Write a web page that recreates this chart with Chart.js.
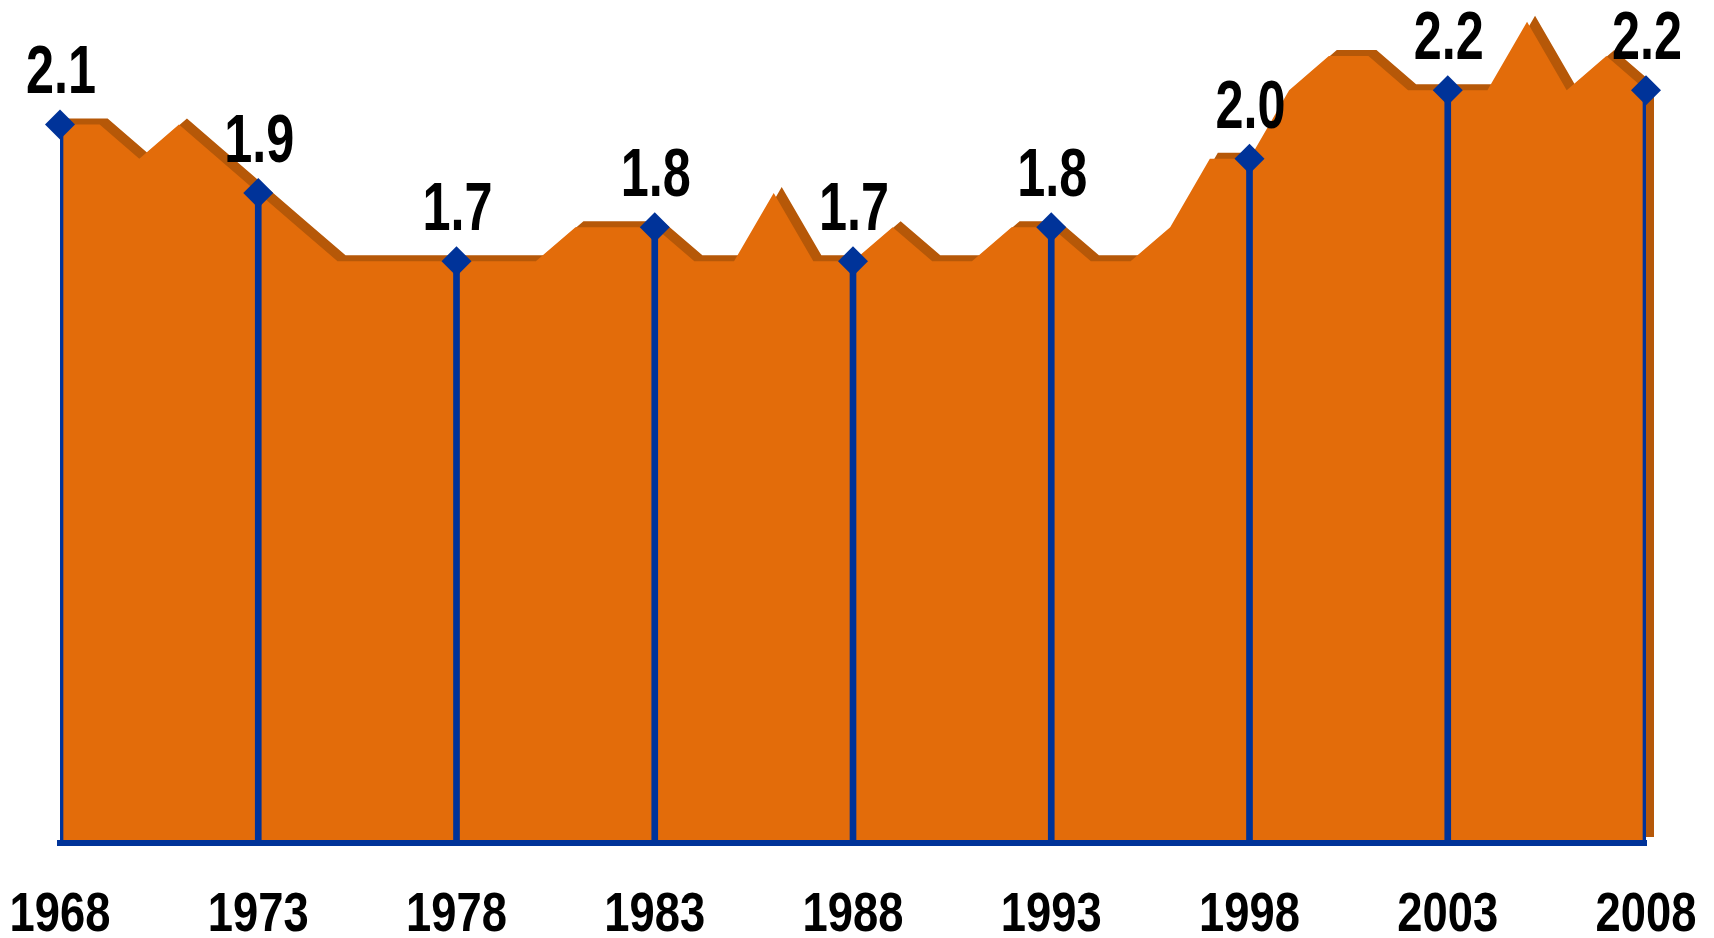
<!DOCTYPE html>
<html>
<head>
<meta charset="utf-8">
<script src="https://cdn.jsdelivr.net/npm/chart.js@4.4.1/dist/chart.umd.min.js"></script>
<style>
  html, body { margin: 0; padding: 0; background: #fff; }
</style>
</head>
<body>
<canvas id="chart" width="1714" height="938"></canvas>
<script>
// yearly series, 1968 - 2008
const years = ['1968','1969','1970','1971','1972','1973','1974','1975','1976','1977',
               '1978','1979','1980','1981','1982','1983','1984','1985','1986','1987',
               '1988','1989','1990','1991','1992','1993','1994','1995','1996','1997',
               '1998','1999','2000','2001','2002','2003','2004','2005','2006','2007','2008'];
const values = [2.1, 2.1, 2.0, 2.1, 2.0, 1.9, 1.8, 1.7, 1.7, 1.7,
                1.7, 1.7, 1.7, 1.8, 1.8, 1.8, 1.7, 1.7, 1.9, 1.7,
                1.7, 1.8, 1.7, 1.7, 1.8, 1.8, 1.7, 1.7, 1.8, 2.0,
                2.0, 2.2, 2.3, 2.3, 2.2, 2.2, 2.2, 2.4, 2.2, 2.3, 2.2];
// years that get a marker, a drop line and an axis label
const markerYears = ['1968','1973','1978','1983','1988','1993','1998','2003','2008'];

const ORANGE = '#E36C0A';
const SHADOW = '#B65808';
const BLUE = '#003399';
const FONT = "'Liberation Sans', Arial, sans-serif";

const markerData = years.map((y, i) => markerYears.includes(y) ? values[i] : null);

// narrow bold text (no condensed face installed, so squeeze it)
function narrowText(c, text, x, y, size, squeeze) {
    c.save();
    c.translate(x, y);
    c.scale(squeeze, 1);
    c.font = 'bold ' + size + 'px ' + FONT;
    c.fillStyle = '#000';
    c.textAlign = 'center';
    c.textBaseline = 'alphabetic';
    c.fillText(text, 0, 0);
    c.restore();
}

// darker copy of the area, shifted up/right, drawn behind it
const areaShadow = {
    id: 'areaShadow',
    beforeDatasetsDraw(chart) {
        const pts = chart.getDatasetMeta(0).data;
        const base = chart.scales.y.getPixelForValue(0);
        const c = chart.ctx;
        c.save();
        c.translate(8, -6);
        c.beginPath();
        c.moveTo(pts[0].x, base);
        pts.forEach(p => c.lineTo(p.x, p.y));
        c.lineTo(pts[pts.length - 1].x, base);
        c.closePath();
        c.fillStyle = SHADOW;
        c.fill();
        c.restore();
    }
};

// value text above each marker + year labels under the axis
const textLabels = {
    id: 'textLabels',
    afterDraw(chart) {
        const c = chart.ctx;
        const pts = chart.getDatasetMeta(2).data;
        const xs = chart.scales.x;
        pts.forEach((p, i) => {
            const v = markerData[i];
            if (v === null) return;
            narrowText(c, v.toFixed(1), p.x + 1, p.y - 31, 69, 0.73);
        });
        markerYears.forEach(y => {
            const px = xs.getPixelForValue(years.indexOf(y));
            narrowText(c, y, px, 931, 56, 0.81);
        });
    }
};

const ctx = document.getElementById('chart').getContext('2d');

new Chart(ctx, {
    type: 'line',
    data: {
        labels: years,
        datasets: [
            {
                data: values,
                fill: 'origin',
                backgroundColor: ORANGE,
                borderColor: 'rgba(0,0,0,0)',
                borderWidth: 0,
                pointRadius: 0,
                tension: 0,
                order: 3
            },
            {
                type: 'bar',
                data: markerData,
                backgroundColor: BLUE,
                barThickness: 6,
                order: 2
            },
            {
                data: markerData,
                showLine: false,
                pointStyle: 'rectRot',
                pointRadius: 15,
                pointBackgroundColor: BLUE,
                pointBorderWidth: 0,
                clip: false,
                order: 1
            }
        ]
    },
    options: {
        responsive: false,
        animation: false,
        devicePixelRatio: 1,
        layout: {
            padding: { left: 60, right: 68, top: 0, bottom: 95 }
        },
        plugins: {
            legend: { display: false },
            tooltip: { enabled: false }
        },
        scales: {
            x: {
                offset: false,
                grid: { display: false, drawTicks: false },
                border: { color: BLUE, width: 6, z: 1 },
                ticks: { display: false }
            },
            y: {
                display: false,
                min: 0,
                max: 2.42
            }
        }
    },
    plugins: [areaShadow, textLabels]
});
</script>
</body>
</html>
